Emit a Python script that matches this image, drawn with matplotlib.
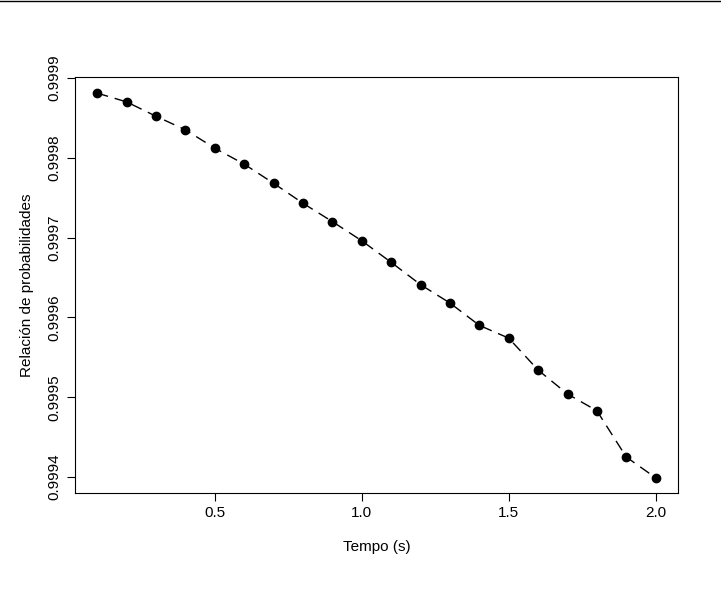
import matplotlib
matplotlib.use("Agg")
import matplotlib.pyplot as plt

plt.rcParams['font.family'] = ['Liberation Sans', 'DejaVu Sans']

tempo = [0.1,0.2,0.3,0.4,0.5,0.6,0.7,0.8,0.9,1.0,1.1,1.2,1.3,1.4,1.5,1.6,1.7,1.8,1.9,2.0]
ratio = [0.999881,0.999870,0.999852,0.999835,0.999812,0.999792,0.999768,0.999743,0.999720,0.999696,
         0.999669,0.999641,0.999618,0.999590,0.999574,0.999534,0.999504,0.999483,0.999425,0.999399]
xticks = [0.5,1.0,1.5,2.0]
yticks = [0.9994,0.9995,0.9996,0.9997,0.9998,0.9999]

fig = plt.figure(figsize=(7.21,5.91), dpi=100)
ax = fig.add_axes([75/721, 1-493/591, (678-75)/721, (493-77)/591])
ax.plot(tempo, ratio, color='black', linestyle=(0,(8,5)), linewidth=1,
        marker='o', markersize=6)
ax.set_xlim(0.024, 2.076)
ax.set_ylim(0.9999 - (493-78)/79.8*0.0001, 0.9999 + 1/79.8*0.0001)
ax.set_xticks(xticks)
ax.set_xticklabels([f"{v:.1f}" for v in xticks], fontsize=11)
ax.set_yticks(yticks)
ax.set_yticklabels([f"{v:.4f}" for v in yticks], fontsize=11, rotation=90, va='center')
ax.set_xlabel("Tempo (s)", fontsize=11, labelpad=14)
ax.set_ylabel("Relación de probabilidades", fontsize=11, labelpad=10)
ax.tick_params(length=6)
fig.add_artist(plt.Line2D([0,1],[1-0.5/591]*2, color='black', linewidth=1))
fig.savefig("out.png", dpi=100)
